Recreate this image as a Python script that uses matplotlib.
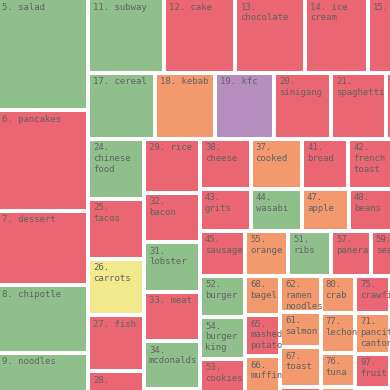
import matplotlib
matplotlib.use('Agg')
import matplotlib.pyplot as plt
from matplotlib.patches import Rectangle

# treemap cells, grouped by strip; values are the cell areas
ids = [5, 6, 7, 8, 9,
       11, 12, 13, 14, 15,
       17, 18, 19, 20, 21, None,
       24, 25, 26, 27, 28,
       29, 32, 31, 33, 34, None,
       38, 37, 41, 42, None,
       43, 44, 47, 48, None,
       45, 55, 51, 57, 59,
       52, 54, 53,
       68, 65, 66,
       62, 61, 67, None,
       80, 77, 76, None,
       75, 71, 97, None,
       None]
names = ['salad', 'pancakes', 'dessert', 'chipotle', 'noodles',
         'subway', 'cake', 'chocolate', 'ice cream', '',
         'cereal', 'kebab', 'kfc', 'sinigang', 'spaghetti', '',
         'chinese food', 'tacos', 'carrots', 'fish', '',
         'rice', 'bacon', 'lobster', 'meat', 'mcdonalds', '',
         'cheese', 'cooked', 'bread', 'french toast', '',
         'grits', 'wasabi', 'apple', 'beans', '',
         'sausage', 'orange', 'ribs', 'panera', 'seafood',
         'burger', 'burger king', 'cookies',
         'bagel', 'mashed potato', 'muffin',
         'ramen noodles', 'salmon', 'toast', '',
         'crab', 'lechon', 'tuna', '',
         'crawfish', 'pancit canton', 'fruit', '',
         '']
values = [10290, 9200, 6820, 6180, 5220,
          5700, 5360, 5210, 4730, 3900,
          4420, 3930, 3930, 3760, 3630, 2240,
          3360, 3360, 3140, 3160, 2160,
          3000, 2770, 2770, 2770, 2660, 1200,
          2530, 2580, 2300, 2400, 1200,
          2140, 2140, 1970, 1980, 1000,
          2030, 1940, 1940, 1780, 2230,
          1850, 1890, 2300,
          1370, 1440, 1890,
          1440, 1440, 1620, 930,
          1260, 1380, 1190, 790,
          1280, 1450, 1190, 770,
          4020]
kinds = ['g', 'r', 'r', 'g', 'g',
         'g', 'r', 'r', 'r', 'r',
         'g', 'o', 'p', 'r', 'r', 'r',
         'g', 'r', 'y', 'r', 'r',
         'r', 'r', 'g', 'r', 'g', 'r',
         'r', 'o', 'r', 'r', 'r',
         'r', 'g', 'o', 'r', 'r',
         'r', 'o', 'g', 'r', 'r',
         'g', 'g', 'r',
         'o', 'r', 'o',
         'o', 'o', 'o', 'r',
         'o', 'o', 'o', 'o',
         'r', 'o', 'r', 'o',
         'o']
strips = ['A'] * 5 + ['R1'] * 5 + ['R2'] * 6 + ['B'] * 5 + ['C'] * 6 + \
         ['D'] * 5 + ['E'] * 5 + ['F'] * 5 + ['G1'] * 3 + ['G2'] * 3 + \
         ['G3'] * 4 + ['G4'] * 4 + ['G5'] * 4 + ['G6']

# how strips nest (slice and dice, direction alternates per level)
tree = ['A', ['R1', 'R2', ['B', 'C', ['D', 'E', 'F',
                                      ['G1', 'G2', 'G3', 'G4', 'G5', 'G6']]]]]

colors = {'r': '#ea6672', 'g': '#8fc08c', 'o': '#f29a6e',
          'p': '#b58ebd', 'y': '#f2e88c'}

CHAR = 5.42   # px per monospace character at 6.5pt
PAD = 2


def total(node):
    if isinstance(node, str):
        return sum(v for v, s in zip(values, strips) if s == node)
    return sum(total(n) for n in node)


cells = []


def layout(node, x0, y0, x1, y1, horiz):
    if isinstance(node, str):
        idx = [i for i, s in enumerate(strips) if s == node]
        parts = [(i, values[i]) for i in idx]
    else:
        parts = [(n, total(n)) for n in node]
    tot = sum(p[1] for p in parts)
    pos = x0 if horiz else y0
    for key, v in parts:
        if horiz:
            step = (x1 - x0) * v / tot
            box = (pos, y0, pos + step, y1)
        else:
            step = (y1 - y0) * v / tot
            box = (x0, pos, x1, pos + step)
        pos += step
        if isinstance(node, str):
            cells.append((key, box))
        else:
            layout(key, *box, not horiz)


layout(tree, -3.5, -2, 420, 410, True)


def wrap(text, width):
    lines, cur = [], ''
    for w in text.split(' '):
        trial = w if not cur else cur + ' ' + w
        if not cur or len(trial) * CHAR <= width:
            cur = trial
        else:
            lines.append(cur)
            cur = w
    lines.append(cur)
    return '\n'.join(lines)


fig = plt.figure(figsize=(3.9, 3.9), dpi=100)
ax = fig.add_axes([0, 0, 1, 1])
ax.set_xlim(0, 390)
ax.set_ylim(390, 0)
ax.axis('off')

for i, (x0, y0, x1, y1) in cells:
    rect = Rectangle((x0 + PAD, y0 + PAD), x1 - x0 - 2 * PAD, y1 - y0 - 2 * PAD,
                     facecolor=colors[kinds[i]], edgecolor='none')
    ax.add_patch(rect)
    if ids[i] is None:
        continue
    label = f'{ids[i]}.' + (f' {names[i]}' if names[i] else '')
    label = wrap(label, x1 - x0 - 2 * PAD - 5)
    t = ax.text(x0 + PAD + 3, y0 + PAD + 2.5, label, ha='left', va='top',
                fontsize=6.5, family='DejaVu Sans Mono', color='#626262',
                linespacing=1.25)
    t.set_clip_path(rect)

fig.savefig('out.png', dpi=100)
